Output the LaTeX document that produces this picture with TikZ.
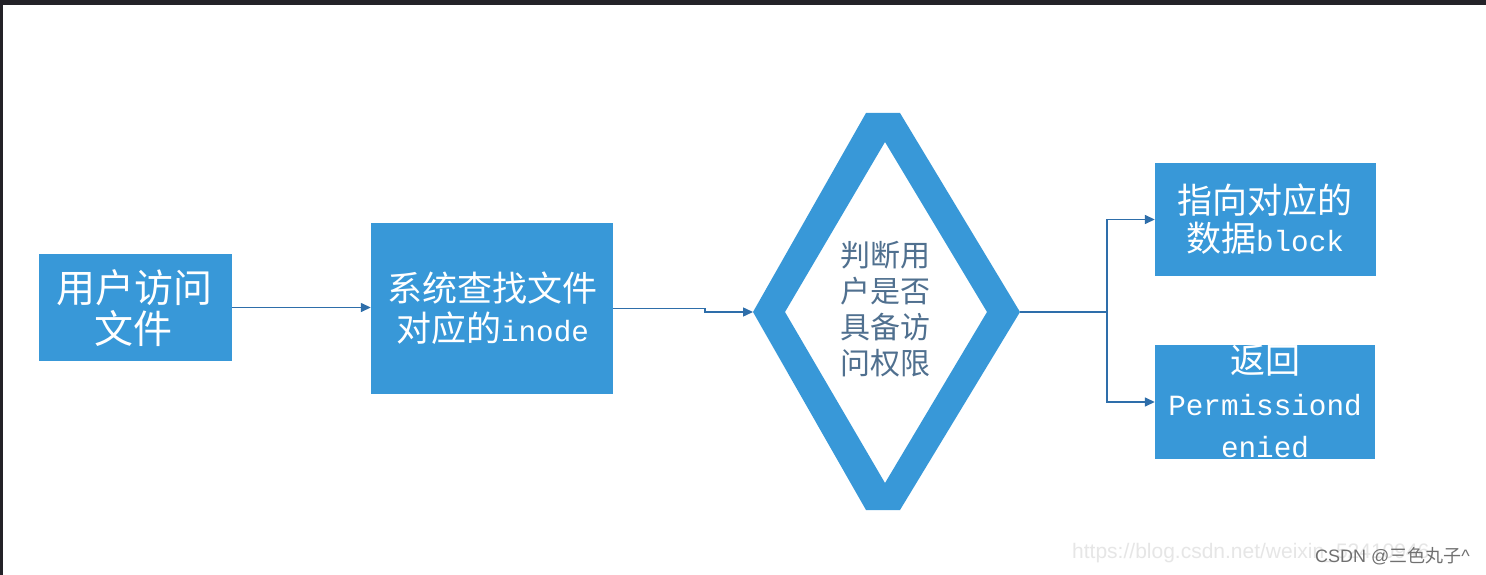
\documentclass[tikz,border=0pt]{standalone}
\usepackage{fontspec}
\setmainfont{Liberation Sans}
\newfontfamily\cjk{Noto Sans CJK SC}
\newfontfamily\lmono{Liberation Mono}
\usetikzlibrary{arrows.meta}
\definecolor{boxblue}{HTML}{3898D8}
\definecolor{arrowblue}{HTML}{2E6EAA}
\definecolor{framedark}{HTML}{232228}
\definecolor{dtxt}{HTML}{50708F}
\definecolor{wmlight}{HTML}{E6E6E6}
\definecolor{wmdark}{HTML}{707070}
\newcommand\lat[2]{{\lmono\fontsize{#1}{#2}\selectfont #2}}
\newcommand\latw[3]{{\lmono\fontsize{#1}{#2}\selectfont #3}}
\begin{document}
\begin{tikzpicture}[x=1pt,y=-1pt,
  boxnode/.style={fill=boxblue, draw=none, inner sep=0pt, rectangle},
  boxtext/.style={text=white, align=center, inner sep=0pt},
  conn/.style={draw=arrowblue, line width=1.4pt},
  arr/.style={conn, -{Triangle[length=10pt,width=9pt]}}
]
\useasboundingbox (0,0) rectangle (1486,575);
\fill[white] (0,0) rectangle (1486,575);
\fill[framedark] (0,0) rectangle (1486,5);
\fill[framedark] (0,0) rectangle (3,575);

% boxes
\node[boxnode, minimum width=193pt, minimum height=107pt] (b1) at (135.5,307.5) {};
\node[boxnode, minimum width=242pt, minimum height=171pt] (b2) at (492,308.5) {};
\node[boxnode, minimum width=221pt, minimum height=113pt] (b3) at (1265.5,219.5) {};
\node[boxnode, minimum width=220pt, minimum height=114pt] (b4) at (1265,402) {};

\node[boxtext, font=\cjk\fontsize{39}{41}\selectfont] (t1) at (134,308) {用户访问\\文件};
\node[boxtext, font=\cjk\fontsize{35}{40}\selectfont] (t2) at (492.5,308) {系统查找文件\\对应的\latw{29.3}{40}{inode}};
\node[boxtext, font=\cjk\fontsize{35}{38}\selectfont] (t3) at (1265,219) {指向对应的\\数据\latw{29.3}{38}{block}};
\node[boxtext, font=\cjk\fontsize{35}{42}\selectfont] (t4) at (1265,401) {返回\\\latw{29.3}{42}{Permissiond}\\\latw{29.3}{42}{enied}};

% decision diamond (thick outline)
\fill[boxblue, even odd rule]
  (753,312) -- (866,113) -- (900,113) -- (1020,312) -- (900,510) -- (866,510) -- cycle
  (885,142) -- (987,312) -- (885,483) -- (785,312) -- cycle;
\coordinate (dw) at (753,312);
\coordinate (de) at (1020,312);
\node[align=center, inner sep=0pt, text=dtxt, font=\cjk\fontsize{30}{36}\selectfont] (dt) at (885.5,309) {判断用\\户是否\\具备访\\问权限};

% connectors
\draw[arr] (b1.east) -- (b1.east -| b2.west);
\coordinate (j1) at (705,308.5);
\draw[arr] (b2.east) -- (j1) |- (dw);
\coordinate (j2) at (1107,312);
\draw[conn] (de) -- (j2);
\draw[arr] (j2) |- (b3.west);
\draw[arr] (j2) |- (b4.west);

% watermark
\node[anchor=west, inner sep=0pt, text=wmlight, font=\fontsize{21}{21}\selectfont] (wm) at (1072,553) {https://blog.csdn.net/weixin\_52410946};
\node[anchor=west, inner sep=0pt, text=wmdark, font=\fontsize{18}{18}\selectfont] (csdn) at (1315,556) {CSDN @{\cjk 三色丸子}\^{}};
\end{tikzpicture}
\end{document}
